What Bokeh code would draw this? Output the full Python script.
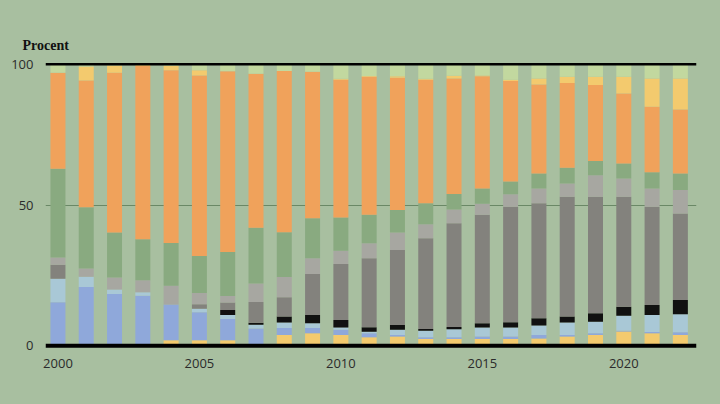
from bokeh.plotting import figure
from bokeh.models import ColumnDataSource, Span, FixedTicker
from bokeh.embed import file_html
from bokeh.resources import INLINE

years = list(range(2000, 2023))

# stacked shares (percent), bottom to top
gul_bas   = [0, 0, 0, 0.5, 2, 2, 2, 0.5, 3.9, 4.5, 3.9, 3.1, 3.3, 2.4, 2.4, 2.4, 2.4, 2.6, 3.3, 3.9, 5.1, 4.5, 3.9]
bla       = [15.5, 20.9, 18.4, 17.3, 12.7, 9.9, 7.5, 5.7, 2.4, 1.8, 1.8, 1.4, 0.6, 0.7, 0.7, 0.9, 0.9, 1.3, 0.6, 0.6, 0.3, 0.4, 0.9]
ljusbla   = [8.3, 3.6, 1.6, 1.2, 0, 1.3, 1.5, 1.3, 2, 1.7, 0.8, 0.5, 1.8, 2.3, 2.8, 3.2, 3.2, 3.3, 4.4, 4.1, 5.3, 6.1, 6.4]
svart     = [0, 0, 0, 0, 0, 0, 1.7, 0.7, 2.1, 3, 2.7, 1.6, 1.7, 0.6, 0.8, 1.5, 1.9, 2.6, 2.1, 3, 3.2, 3.5, 5.1]
morkgra   = [5, 0, 0, 0, 0, 1.6, 2.7, 7.4, 6.9, 14.5, 19.9, 24.5, 26.6, 32.2, 36.8, 38.5, 41, 40.8, 42.5, 41.3, 39, 34.9, 30.7]
ljusgra   = [2.6, 3, 4.3, 4.3, 6.6, 4, 2.3, 6.5, 7.1, 5.6, 4.7, 5.3, 6.2, 5, 4.9, 3.9, 4.4, 5.3, 4.7, 7.7, 6.5, 6.5, 8.3]
gron      = [31.5, 21.7, 15.9, 14.5, 15.2, 13.1, 15.6, 19.8, 15.9, 14.2, 11.8, 10.1, 8, 7.4, 5.5, 5.5, 4.5, 5.3, 5.6, 5, 5.3, 5.7, 5.9]
orange    = [34, 45, 56.7, 61.5, 61.3, 64.1, 64.2, 54.7, 57.3, 52, 48.9, 49, 47, 43.9, 41, 39.8, 35.7, 31.6, 30.1, 27, 24.9, 23.3, 22.7]
gul_topp  = [0, 5, 2.6, 0.7, 1.5, 1.8, 0, 0, 0, 0, 0.3, 0.3, 0.5, 0.3, 1, 0.3, 0.5, 2.1, 2.2, 2.9, 5.9, 10, 11]
ljusgron  = [3, 0.7, 0.5, 0, 0.7, 2.2, 2.5, 3.4, 2.4, 2.7, 5.2, 4.2, 4.3, 5.2, 4.1, 4, 5.5, 5.1, 4.5, 4.5, 4.5, 5.1, 5.1]

series = ["gul_bas", "bla", "ljusbla", "svart", "morkgra", "ljusgra", "gron", "orange", "gul_topp", "ljusgron"]
colors = ["#f3ca6e", "#8fa8da", "#a9c8d6", "#111111", "#83827d", "#a7a7a1",
          "#89aa80", "#f0a25b", "#f3ca6e", "#c2d89f"]

x_ticks = [2000, 2005, 2010, 2015, 2020]
y_ticks = [0, 50, 100]

BG = "#a8bfa0"

source = ColumnDataSource(dict(
    year=years, gul_bas=gul_bas, bla=bla, ljusbla=ljusbla, svart=svart,
    morkgra=morkgra, ljusgra=ljusgra, gron=gron, orange=orange,
    gul_topp=gul_topp, ljusgron=ljusgron))

p = figure(width=720, height=404, output_backend="svg", toolbar_location=None,
           x_range=(1999.56, 2022.57), y_range=(-2, 102),
           min_border_left=45, min_border_right=24, min_border_top=58, min_border_bottom=53,
           title="Procent")
p.background_fill_color = BG
p.border_fill_color = BG
p.outline_line_color = None

p.title.align = "left"
p.title.offset = -23
p.title.standoff = 12
p.title.text_font = "Liberation Serif"
p.title.text_font_style = "bold"
p.title.text_font_size = "14px"
p.title.text_color = "#111111"

p.vbar_stack(series, x="year", width=0.53, source=source, color=colors, line_color=None)

# axes
for ax in (p.xaxis[0], p.yaxis[0]):
    ax.axis_line_color = None
    ax.major_tick_line_color = None
    ax.minor_tick_line_color = None
    ax.major_label_text_font = "Open Sans"
    ax.major_label_text_font_size = "13px"
    ax.major_label_text_color = "#2b2b2b"
p.xaxis.ticker = FixedTicker(ticks=x_ticks)
p.yaxis.ticker = FixedTicker(ticks=y_ticks)
p.xaxis.major_label_standoff = 1
p.yaxis.major_label_standoff = 6

p.xgrid.grid_line_color = None
p.ygrid.ticker = FixedTicker(ticks=[50])
p.ygrid.grid_line_color = "#6a8866"
p.ygrid.grid_line_width = 1

p.add_layout(Span(location=0, dimension="width", line_color="#000000", line_width=4))
p.add_layout(Span(location=100, dimension="width", line_color="#000000", line_width=2.5))

tpl = "{% block postamble %}<style>html,body{background:#a8bfa0;}</style>{% endblock %}"
open("out.html", "w").write(file_html(p, INLINE, template=tpl))
